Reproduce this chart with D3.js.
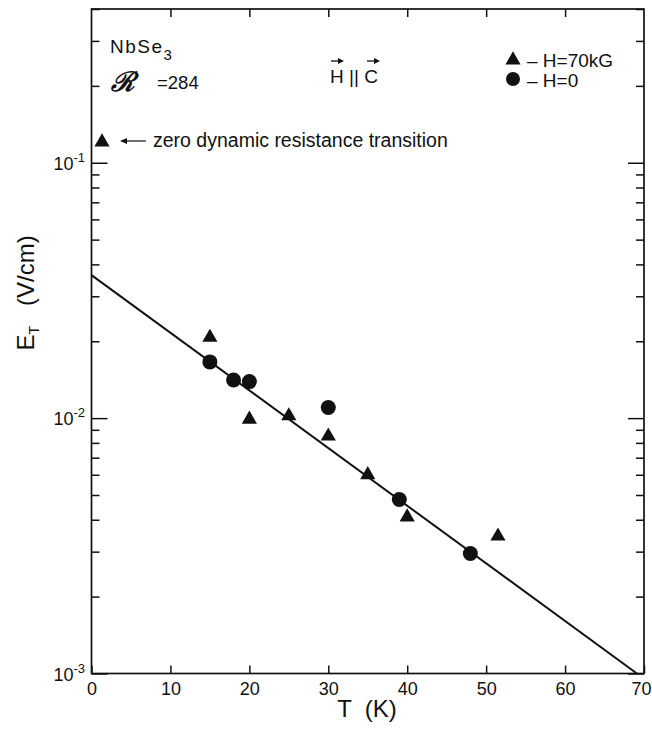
<!doctype html>
<html>
  <head>
    <script src="https://cdn.jsdelivr.net/npm/d3@7/dist/d3.min.js"></script>
    <style>
      body { margin: 0; background: #fff; }
      svg { font-family: "Liberation Sans", Arial, sans-serif; }
      text { white-space: pre; }
      .ax path.domain { display: none; }
      .ax line { stroke: #111; stroke-width: 1.5; }
    </style>
  </head>
  <body>
    <svg id="chart" width="652" height="730"></svg>
    <script>
      // H = 70 kG (triangles)
      const tH70 = [15, 20, 25, 30, 35, 40, 51.5];
      const eH70 = [0.0207, 0.0099, 0.0102, 0.0085, 0.0060, 0.0041, 0.00345];
      // H = 0 (circles)
      const tH0 = [15, 18, 20, 30, 39, 48];
      const eH0 = [0.0166, 0.0141, 0.0139, 0.0110, 0.0048, 0.00295];
      // fitted line
      const fitT = [0, 69.1];
      const fitE = [0.0363, 0.001];
      const xTicks = [0, 10, 20, 30, 40, 50, 60, 70];
      const yMajor = [0.001, 0.01, 0.1];
      const yLabels = ["-3", "-2", "-1"];

      const svg = d3.select("#chart");
      const x = d3.scaleLinear().domain([0, 70]).range([91.5, 644]);
      const y = d3.scaleLog().domain([0.001, 0.4]).range([673.5, 9]);

      const yMinor = y.ticks().filter(v => !yMajor.some(m => Math.abs(m - v) < 1e-9));

      // frame
      svg.append("rect")
        .attr("x", x(0)).attr("y", y(0.4))
        .attr("width", x(70) - x(0)).attr("height", y(0.001) - y(0.4))
        .style("fill", "none").style("stroke", "#111").style("stroke-width", 1.7);

      // bottom axis
      const bx = svg.append("g").attr("class", "ax")
        .attr("transform", `translate(0,${y(0.001)})`)
        .call(d3.axisBottom(x).tickValues(xTicks).tickSizeInner(-8).tickSizeOuter(0).tickPadding(9));
      bx.selectAll("text").style("font-size", "18px").style("fill", "#111");
      bx.selectAll("text").filter(d => d === 70).attr("text-anchor", "end").attr("x", 7);

      // top axis
      svg.append("g").attr("class", "ax")
        .attr("transform", `translate(0,${y(0.4)})`)
        .call(d3.axisTop(x).tickValues(xTicks.slice(1, -1)).tickSizeInner(-8).tickSizeOuter(0).tickFormat(""));

      // left / right axes
      [[d3.axisLeft, x(0)], [d3.axisRight, x(70)]].forEach(([ax, px]) => {
        svg.append("g").attr("class", "ax")
          .attr("transform", `translate(${px},0)`)
          .call(ax(y).tickValues(yMajor).tickSizeInner(-16).tickSizeOuter(0).tickFormat(""));
        svg.append("g").attr("class", "ax")
          .attr("transform", `translate(${px},0)`)
          .call(ax(y).tickValues(yMinor).tickSizeInner(-8).tickSizeOuter(0).tickFormat(""));
      });

      // y tick labels 10^n
      yMajor.forEach((v, i) => {
        const t = svg.append("text")
          .attr("x", 85).attr("y", y(v) + 7)
          .attr("text-anchor", "end")
          .style("font-size", "18px").style("fill", "#111");
        t.append("tspan").text("10");
        t.append("tspan").attr("dy", -8).style("font-size", "13px").text(yLabels[i]);
      });

      // axis titles
      svg.append("text")
        .attr("x", 367).attr("y", 717)
        .attr("text-anchor", "middle")
        .style("font-size", "24px").style("fill", "#111")
        .text("T  (K)");

      const yt = svg.append("text")
        .attr("transform", "translate(34,293) rotate(-90)")
        .attr("text-anchor", "middle")
        .style("font-size", "24px").style("fill", "#111");
      yt.append("tspan").text("E");
      yt.append("tspan").attr("dy", 5).style("font-size", "14px").text("T");
      yt.append("tspan").attr("dy", -5).text("   (V/cm)");

      // fit line
      const fit = fitT.map((t, i) => [t, fitE[i]]);
      svg.append("path")
        .datum(fit)
        .attr("d", d3.line().x(d => x(d[0])).y(d => y(d[1])))
        .style("fill", "none").style("stroke", "#111").style("stroke-width", 2);

      const tri = d3.symbol().type(d3.symbolTriangle).size(100);

      svg.selectAll("circle.h0")
        .data(tH0.map((t, i) => [t, eH0[i]]))
        .enter().append("circle")
          .attr("class", "h0")
          .attr("cx", d => x(d[0]))
          .attr("cy", d => y(d[1]))
          .attr("r", 7.5)
          .style("fill", "#111");

      svg.selectAll("path.h70")
        .data(tH70.map((t, i) => [t, eH70[i]]))
        .enter().append("path")
          .attr("class", "h70")
          .attr("d", tri)
          .attr("transform", d => `translate(${x(d[0])},${y(d[1])})`)
          .style("fill", "#111");

      // annotations
      svg.append("path").attr("d", tri).attr("transform", "translate(102,142)").style("fill", "#111");
      svg.append("line").attr("x1", 124).attr("y1", 141).attr("x2", 146).attr("y2", 141)
        .style("stroke", "#111").style("stroke-width", 1.2);
      svg.append("path").attr("d", "M120,141 L127,138 L127,144 Z").style("fill", "#111");
      svg.append("text").attr("x", 153).attr("y", 147)
        .style("font-size", "19.5px").style("fill", "#111")
        .text("zero dynamic resistance transition");

      const nb = svg.append("text").attr("x", 110).attr("y", 53)
        .style("font-size", "19px").style("fill", "#111").style("letter-spacing", "1.5px");
      nb.append("tspan").text("NbSe");
      nb.append("tspan").attr("dy", 7).style("font-size", "15px").text("3");

      svg.append("text").attr("x", 111).attr("y", 91)
        .style("font-family", "'DejaVu Serif', serif").style("font-style", "italic").style("font-weight", "bold")
        .style("font-size", "27px").style("fill", "#111").text("ℛ");
      svg.append("text").attr("x", 157).attr("y", 89)
        .style("font-size", "18.5px").style("fill", "#111").text("=284");

      svg.append("text").attr("x", 330).attr("y", 83)
        .style("font-size", "19px").style("fill", "#111").text("H || C");
      [337, 373].forEach(ax => {
        svg.append("line").attr("x1", ax - 6).attr("y1", 61).attr("x2", ax + 4).attr("y2", 61)
          .style("stroke", "#111").style("stroke-width", 1.3);
        svg.append("path").attr("d", `M${ax + 7},61 L${ax + 1},58 L${ax + 1},64 Z`).style("fill", "#111");
      });

      // legend
      svg.append("path").attr("d", tri).attr("transform", "translate(513,60)").style("fill", "#111");
      svg.append("circle").attr("cx", 513).attr("cy", 79).attr("r", 7).style("fill", "#111");
      svg.append("text").attr("x", 527).attr("y", 67)
        .style("font-size", "19px").style("fill", "#111").text("– H=70kG");
      svg.append("text").attr("x", 527).attr("y", 87)
        .style("font-size", "19px").style("fill", "#111").text("– H=0");
    </script>
  </body>
</html>
